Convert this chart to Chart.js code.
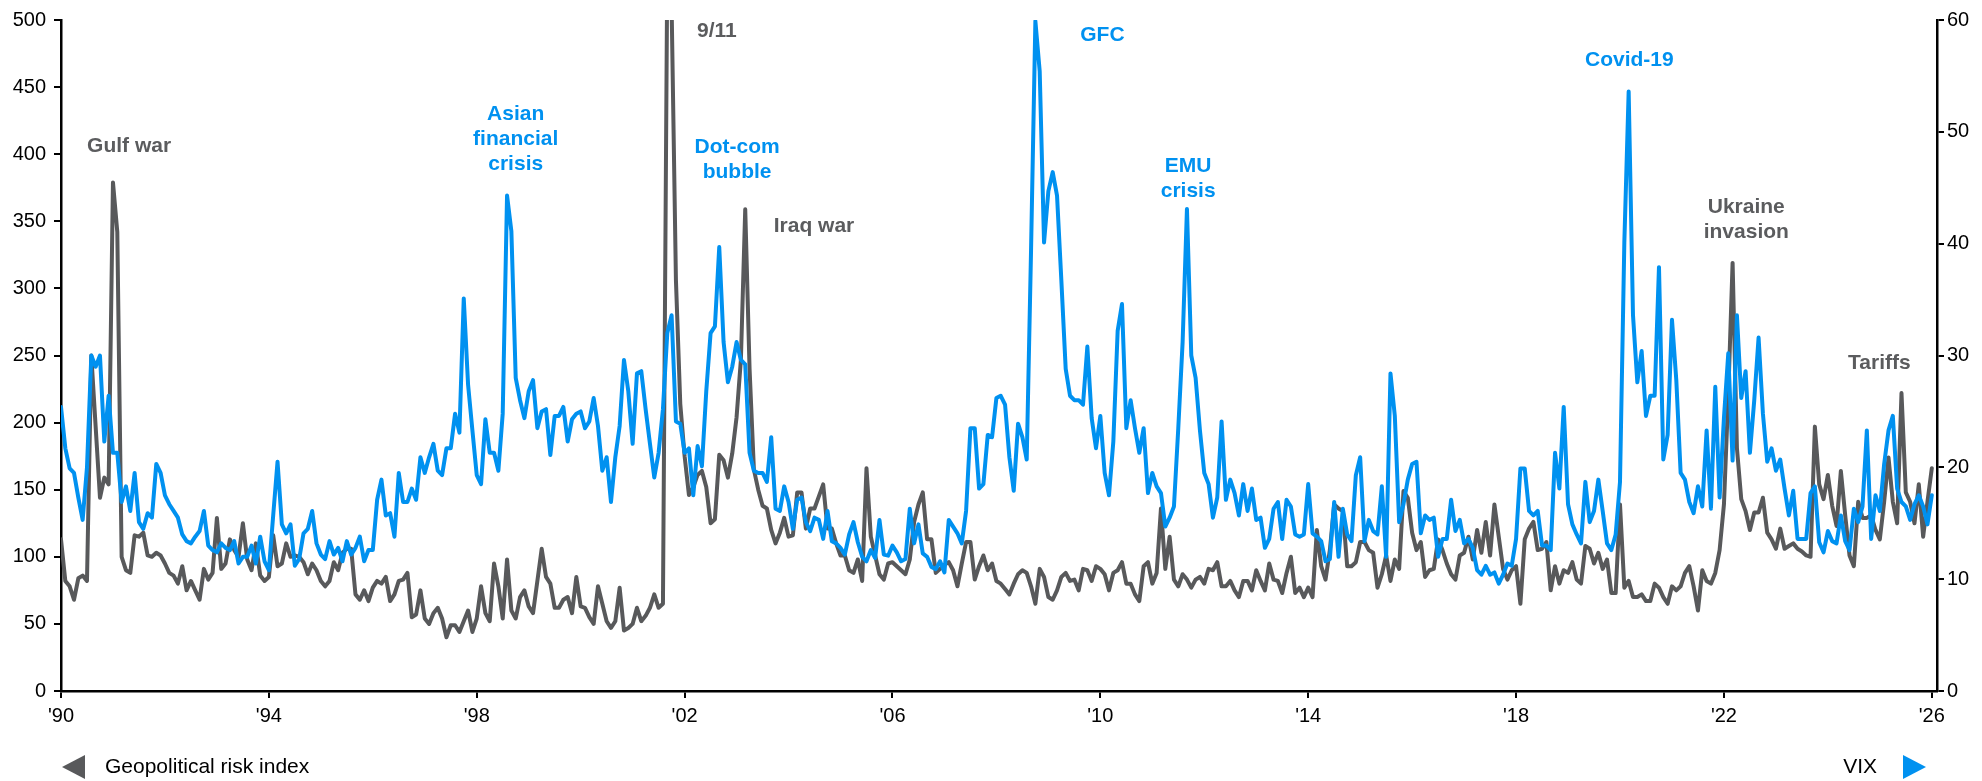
<!DOCTYPE html>
<html>
<head>
<meta charset="utf-8">
<title>Geopolitical risk index and VIX</title>
<script src="https://cdn.jsdelivr.net/npm/chart.js@4.4.1/dist/chart.umd.min.js"></script>
<style>
  html, body { margin: 0; padding: 0; background: #fff; }
  #wrap { position: relative; width: 1982px; height: 781px; }
</style>
</head>
<body>
<div id="wrap"><canvas id="chart-gpr-vix"></canvas></div>
<script>
(function () {
  'use strict';

  // monthly, Jan 1990 .. Jan 2026
  var START_YEAR = 1990;

  var gprIndex = [
    113, 82, 78, 68, 84, 86, 82, 250, 197, 144, 159, 154,      // 1990
    379, 342, 100, 90, 88, 116, 115, 118, 101, 100, 103, 101,  // 1991
    95, 88, 86, 80, 93, 75, 82, 75, 68, 91, 83, 88,            // 1992
    129, 91, 95, 113, 105, 100, 125, 98, 90, 110, 86, 82,      // 1993
    85, 116, 93, 95, 110, 100, 101, 100, 96, 87, 95, 90,       // 1994
    82, 78, 82, 96, 90, 103, 106, 106, 72, 68, 75, 67,         // 1995
    77, 82, 80, 85, 67, 72, 82, 83, 88, 55, 57, 75,            // 1996
    54, 50, 58, 62, 54, 40, 49, 49, 44, 52, 60, 44,            // 1997
    54, 78, 58, 52, 95, 78, 54, 98, 60, 54, 70, 75,            // 1998
    63, 58, 82, 106, 85, 80, 62, 62, 68, 70, 58, 85,           // 1999
    63, 62, 55, 50, 78, 65, 52, 47, 52, 77, 45, 47,            // 2000
    50, 62, 52, 56, 62, 72, 62, 65, 540, 510, 306, 214,        // 2001
    175, 146, 152, 161, 164, 152, 125, 128, 176, 172, 159, 177, // 2002
    204, 247, 359, 240, 165, 150, 138, 136, 120, 110, 118, 129, // 2003
    115, 116, 148, 148, 121, 136, 136, 145, 154, 121, 121, 110, // 2004
    101, 101, 90, 88, 98, 82, 166, 115, 101, 87, 83, 95,       // 2005
    96, 93, 90, 87, 98, 126, 139, 148, 113, 113, 88, 91,       // 2006
    94, 96, 90, 78, 95, 111, 111, 83, 93, 101, 90, 95,         // 2007
    82, 80, 76, 72, 80, 87, 90, 88, 78, 65, 91, 85,            // 2008
    70, 68, 75, 85, 88, 82, 83, 75, 91, 90, 82, 93,            // 2009
    91, 87, 75, 88, 90, 96, 80, 80, 72, 67, 93, 96,            // 2010
    80, 88, 136, 91, 115, 83, 78, 87, 83, 77, 83, 85,          // 2011
    80, 91, 90, 96, 78, 78, 82, 75, 70, 82, 82, 75,            // 2012
    90, 82, 75, 95, 83, 82, 73, 88, 100, 73, 77, 70,           // 2013
    77, 70, 120, 93, 83, 105, 139, 136, 134, 93, 93, 96,       // 2014
    111, 111, 105, 103, 77, 87, 101, 82, 98, 91, 149, 144,     // 2015
    118, 105, 111, 85, 90, 91, 113, 105, 95, 87, 83, 101,      // 2016
    103, 115, 98, 120, 103, 126, 101, 139, 115, 91, 83, 90,    // 2017
    93, 65, 113, 121, 126, 105, 106, 111, 75, 93, 80, 90,      // 2018
    88, 96, 83, 80, 108, 106, 95, 103, 91, 98, 73, 73,         // 2019
    139, 77, 82, 70, 70, 72, 67, 67, 80, 77, 70, 65,           // 2020
    78, 75, 78, 88, 93, 78, 60, 90, 82, 80, 88, 105,           // 2021
    139, 220, 319, 181, 143, 134, 120, 133, 133, 144, 118, 113, // 2022
    106, 121, 106, 108, 110, 106, 104, 101, 100, 197, 154, 143, // 2023
    161, 138, 123, 164, 131, 101, 93, 141, 129, 129, 131, 120, // 2024
    113, 141, 174, 141, 125, 222, 148, 141, 125, 154, 115, 141, // 2025
    166                                                        // 2026
  ];

  var vixClose = [
    25.4, 21.7, 19.9, 19.5, 17.3, 15.3, 20, 30, 29, 30, 22.3, 26.4,      // 1990
    21.3, 21.3, 16.9, 18.3, 16.1, 19.5, 15.1, 14.5, 15.9, 15.5, 20.3, 19.5, // 1991
    17.5, 16.7, 16.1, 15.5, 14, 13.4, 13.2, 13.8, 14.3, 16.1, 13, 12.6,  // 1992
    12.4, 13.2, 12.8, 12.6, 13.4, 11.4, 12, 12, 13, 11.4, 13.8, 11.6,    // 1993
    10.8, 15.7, 20.5, 14.9, 14.1, 14.9, 11.2, 11.8, 14.1, 14.5, 16.1, 13.2, // 1994
    12.2, 11.8, 13.4, 12.2, 12.8, 11.6, 13.4, 12.2, 12.8, 13.8, 11.6, 12.6, // 1995
    12.6, 17.1, 18.9, 15.7, 15.9, 13.8, 19.5, 16.9, 16.9, 18.1, 17.1, 20.9, // 1996
    19.5, 20.9, 22.1, 19.7, 19.3, 21.7, 21.7, 24.8, 23.1, 35.1, 27.4, 23.3, // 1997
    19.3, 18.5, 24.3, 21.3, 21.3, 19.7, 24.8, 44.3, 41.1, 28, 26, 24.4,  // 1998
    26.8, 27.8, 23.5, 25, 25.2, 21.1, 24.6, 24.6, 25.4, 22.3, 24.3, 24.8, // 1999
    25, 23.5, 24.1, 26.2, 23.7, 19.7, 20.9, 16.9, 20.9, 23.7, 29.6, 26.8, // 2000
    22.1, 28.4, 28.6, 25.2, 22.1, 19.1, 21.3, 25.2, 32, 33.6, 24.1, 23.9, // 2001
    21.3, 21.7, 17.5, 21.9, 20.1, 26.8, 32, 32.6, 39.7, 31.2, 27.6, 29,  // 2002
    31.2, 29.6, 29.2, 21.3, 19.7, 19.5, 19.5, 18.7, 22.7, 16.3, 16.1, 18.3, // 2003
    16.9, 14.5, 17.1, 17.3, 15.1, 14.3, 15.5, 15.3, 13.6, 16.1, 13.4, 13.2, // 2004
    12.8, 12.2, 14, 15.1, 13.3, 12, 11.6, 12.6, 11.9, 15.3, 12.2, 12.1,  // 2005
    13, 12.4, 11.6, 11.8, 16.3, 13.2, 14.9, 12.3, 12, 11.1, 10.9, 11.6,  // 2006
    10.6, 15.3, 14.7, 14.1, 13.2, 16.1, 23.5, 23.5, 18.1, 18.5, 22.9, 22.7, // 2007
    26.2, 26.4, 25.6, 20.9, 17.9, 23.9, 22.7, 20.7, 39.4, 59.9, 55.4, 40.1, // 2008
    44.7, 46.4, 44.3, 36.7, 28.8, 26.4, 26, 26, 25.6, 30.8, 24.4, 21.7,  // 2009
    24.6, 19.5, 17.5, 22.3, 32.2, 34.6, 23.5, 26, 23.5, 21.3, 23.5, 17.7, // 2010
    19.5, 18.3, 17.7, 14.7, 15.5, 16.5, 23.5, 31.2, 43.1, 30, 28, 23.3,  // 2011
    19.5, 18.5, 15.5, 17.3, 24.1, 17.1, 18.9, 17.7, 15.7, 18.5, 16.1, 18.1, // 2012
    15.3, 15.5, 12.8, 13.6, 16.3, 16.9, 13.6, 17.1, 16.5, 14, 13.8, 14,  // 2013
    18.5, 14.1, 13.8, 13.4, 11.6, 11.8, 16.9, 12, 16.3, 14, 13.4, 19.3,  // 2014
    20.9, 13.4, 15.3, 14.3, 14, 18.3, 12, 28.4, 24.6, 15.1, 16.7, 18.9,  // 2015
    20.3, 20.5, 14.1, 15.7, 15.3, 15.5, 12, 13.6, 13.6, 17.1, 14.3, 15.3, // 2016
    13.2, 13.6, 12.8, 10.8, 10.4, 11.2, 10.4, 10.6, 9.6, 10.4, 11.4, 11.2, // 2017
    13.6, 19.9, 19.9, 16.1, 15.7, 16.1, 13, 13, 12.6, 21.3, 18.1, 25.4,  // 2018
    16.7, 14.9, 14, 13.2, 18.7, 15.1, 16.1, 18.9, 16.1, 13.2, 12.6, 14,  // 2019
    18.7, 40.1, 53.6, 33.6, 27.6, 30.4, 24.6, 26.4, 26.4, 37.9, 20.7, 22.9, // 2020
    33.2, 27.8, 19.5, 18.9, 16.9, 15.9, 18.3, 16.5, 23.3, 16.3, 27.2, 17.3, // 2021
    24.4, 30.2, 20.6, 33.6, 26.2, 28.6, 21.3, 26, 31.6, 24.8, 20.5, 21.7, // 2022
    19.7, 20.7, 18.1, 15.7, 17.9, 13.6, 13.6, 13.6, 17.7, 18.3, 13.3, 12.4, // 2023
    14.3, 13.4, 13.2, 15.7, 13.4, 12.6, 16.3, 15.1, 16.5, 23.3, 13.6, 17.5, // 2024
    16.1, 20.3, 23.3, 24.6, 18.1, 16.9, 16.5, 15.3, 16.7, 17.5, 16.5, 14.9, // 2025
    17.5                                                                  // 2026
  ];

  var yearTicks = [1990, 1994, 1998, 2002, 2006, 2010, 2014, 2018, 2022, 2026];
  var gprTicks = [0, 50, 100, 150, 200, 250, 300, 350, 400, 450, 500];
  var vixTicks = [0, 10, 20, 30, 40, 50, 60];

  var seriesNames = ['Geopolitical risk index', 'VIX'];

  // event labels: text lines, anchored at a year and a value on the left axis
  var eventLabels = [
    { lines: ['Gulf war'], year: 1991.31, gpr: 406, series: 0 },
    { lines: ['Asian', 'financial', 'crisis'], year: 1998.75, gpr: 411, series: 1 },
    { lines: ['9/11'], year: 2002.62, gpr: 492, series: 0 },
    { lines: ['Dot-com', 'bubble'], year: 2003.01, gpr: 396, series: 1 },
    { lines: ['Iraq war'], year: 2004.49, gpr: 346, series: 0 },
    { lines: ['GFC'], year: 2010.04, gpr: 489, series: 1 },
    { lines: ['EMU', 'crisis'], year: 2011.69, gpr: 382, series: 1 },
    { lines: ['Covid-19'], year: 2020.18, gpr: 470, series: 1 },
    { lines: ['Ukraine', 'invasion'], year: 2022.43, gpr: 351, series: 0 },
    { lines: ['Tariffs'], year: 2024.99, gpr: 244, series: 0 }
  ];

  var GREY = '#58595b';
  var BLUE = '#0091f0';
  var FONT = "'Liberation Sans', Arial, sans-serif";

  function toPoints(values) {
    return values.map(function (v, i) {
      return { x: START_YEAR + i / 12, y: v };
    });
  }

  function shortYear(v) {
    return "'" + String(v).slice(2);
  }

  var eventLabelPlugin = {
    id: 'eventLabels',
    afterDatasetsDraw: function (chart) {
      var ctx = chart.ctx;
      var xs = chart.scales.x;
      var ys = chart.scales.y;
      var lineH = 25;
      ctx.save();
      ctx.font = 'bold 21px ' + FONT;
      ctx.textAlign = 'center';
      ctx.textBaseline = 'middle';
      eventLabels.forEach(function (e) {
        var cx = xs.getPixelForValue(e.year);
        var cy = ys.getPixelForValue(e.gpr);
        var top = cy - (e.lines.length - 1) * lineH / 2;
        ctx.fillStyle = e.series === 0 ? '#5b5c5e' : BLUE;
        e.lines.forEach(function (t, k) {
          ctx.fillText(t, cx, top + k * lineH);
        });
      });
      ctx.restore();
    }
  };

  var sideLegendPlugin = {
    id: 'sideLegend',
    afterDraw: function (chart) {
      var ctx = chart.ctx;
      var a = chart.chartArea;
      var y = chart.height - 14;
      ctx.save();
      ctx.fillStyle = GREY;
      ctx.beginPath();
      ctx.moveTo(a.left + 1, y);
      ctx.lineTo(a.left + 24, y - 12);
      ctx.lineTo(a.left + 24, y + 12);
      ctx.closePath();
      ctx.fill();
      ctx.fillStyle = BLUE;
      ctx.beginPath();
      ctx.moveTo(a.right - 11, y);
      ctx.lineTo(a.right - 34, y - 12);
      ctx.lineTo(a.right - 34, y + 12);
      ctx.closePath();
      ctx.fill();
      ctx.font = '21px ' + FONT;
      ctx.fillStyle = '#000';
      ctx.textBaseline = 'middle';
      ctx.textAlign = 'left';
      ctx.fillText(seriesNames[0], a.left + 44, y);
      ctx.textAlign = 'right';
      ctx.fillText(seriesNames[1], a.right - 60, y);
      ctx.restore();
    }
  };

  function axisGrid() {
    return { drawOnChartArea: false, drawTicks: true, tickLength: 7, color: '#000', lineWidth: 2 };
  }

  function fixedTicks(list) {
    return function (scale) {
      scale.ticks = list.map(function (v) { return { value: v }; });
    };
  }

  var ctx = document.getElementById('chart-gpr-vix');
  new Chart(ctx, {
    type: 'line',
    data: {
      datasets: [
        {
          label: seriesNames[1],
          data: toPoints(vixClose),
          yAxisID: 'y1',
          borderColor: BLUE,
          borderWidth: 4,
          pointRadius: 0,
          borderJoinStyle: 'round',
          borderCapStyle: 'round',
          order: 0
        },
        {
          label: seriesNames[0],
          data: toPoints(gprIndex),
          yAxisID: 'y',
          borderColor: GREY,
          borderWidth: 4,
          pointRadius: 0,
          borderJoinStyle: 'round',
          borderCapStyle: 'round',
          order: 1
        }
      ]
    },
    options: {
      responsive: true,
      maintainAspectRatio: false,
      animation: false,
      devicePixelRatio: 1,
      layout: { padding: { top: 15, left: 0, right: 0, bottom: 0 } },
      plugins: { legend: { display: false }, tooltip: { enabled: false } },
      scales: {
        x: {
          type: 'linear',
          min: 1990,
          max: 2026.1,
          afterBuildTicks: fixedTicks(yearTicks),
          afterFit: function (s) { s.height = 90; },
          grid: axisGrid(),
          border: { color: '#000', width: 2.5 },
          ticks: {
            color: '#000',
            padding: 6,
            maxRotation: 0,
            autoSkip: false,
            font: { family: FONT, size: 20 },
            callback: shortYear
          }
        },
        y: {
          position: 'left',
          min: 0,
          max: 500,
          afterBuildTicks: fixedTicks(gprTicks),
          afterFit: function (s) { s.width = 61; },
          grid: axisGrid(),
          border: { color: '#000', width: 2.5 },
          ticks: { color: '#000', padding: 8, font: { family: FONT, size: 20 } }
        },
        y1: {
          position: 'right',
          min: 0,
          max: 60,
          afterBuildTicks: fixedTicks(vixTicks),
          afterFit: function (s) { s.width = 45; },
          grid: axisGrid(),
          border: { color: '#000', width: 2.5 },
          ticks: { color: '#000', padding: 3, font: { family: FONT, size: 20 } }
        }
      }
    },
    plugins: [eventLabelPlugin, sideLegendPlugin]
  });
})();
</script>
</body>
</html>
